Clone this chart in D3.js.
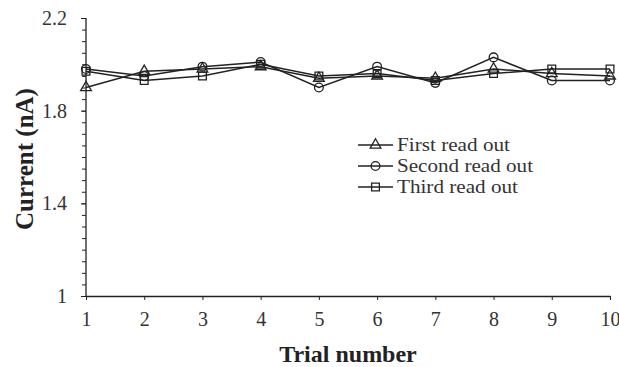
<!DOCTYPE html>
<html><head><meta charset="utf-8">
<script src="https://cdn.jsdelivr.net/npm/d3@7/dist/d3.min.js"></script>
<style>body{margin:0;background:#fff}svg{display:block}</style>
</head><body>
<svg id="c" width="619" height="367"></svg>
<script>
const trials = [1,2,3,4,5,6,7,8,9,10];
const firstRead  = [1.90,1.97,1.98,1.99,1.94,1.95,1.94,1.98,1.96,1.95];
const secondRead = [1.98,1.95,1.99,2.01,1.90,1.99,1.92,2.03,1.93,1.93];
const thirdRead  = [1.97,1.93,1.95,2.00,1.95,1.96,1.93,1.96,1.98,1.98];
const seriesNames = ["First read out","Second read out","Third read out"];
const yTicks = [1,1.4,1.8,2.2];
const xLabel = "Trial number";
const yLabel = "Current (nA)";

const svg = d3.select("#c");
const ink = "#222";
const x = d3.scaleLinear().domain([1,10]).range([86,610]);
const y = d3.scaleLinear().domain([1,2.2]).range([296,18]);

// Y axis with minor ticks
const minor = d3.range(0,25).map(i=>+(1+i*0.05).toFixed(2));
const ya = svg.append("g").attr("transform","translate(86,0)")
  .call(d3.axisLeft(y).tickValues(minor).tickSize(4).tickFormat(""));
ya.selectAll("path").attr("stroke",ink).attr("stroke-width",1.3);
ya.selectAll("line").attr("stroke",ink).attr("stroke-width",1);
ya.select(".domain").attr("d","M0,"+y(2.2)+"V"+y(1));
const yl = svg.append("g").attr("transform","translate(86,0)")
  .call(d3.axisLeft(y).tickValues(yTicks).tickSize(5).tickPadding(14).tickFormat(d=>String(d)));
yl.select(".domain").remove();
yl.selectAll("line").attr("stroke",ink);
yl.selectAll("text").attr("font-family","Liberation Serif").attr("font-size",20).attr("fill","#333");

// X axis
const xa = svg.append("g").attr("transform","translate(0,296)")
  .call(d3.axisBottom(x).tickValues(trials).tickSize(4).tickPadding(12).tickSizeOuter(0));
xa.selectAll("path").attr("stroke",ink).attr("stroke-width",1.3);
xa.selectAll("line").attr("stroke",ink);
xa.selectAll("text").attr("font-family","Liberation Serif").attr("font-size",20).attr("fill","#333");

// titles
svg.append("text").attr("x",348).attr("y",362).attr("text-anchor","middle")
  .attr("font-family","Liberation Serif").attr("font-weight","bold").attr("font-size",24).attr("fill","#222").text(xLabel);
svg.append("text").attr("transform","translate(33,159) rotate(-90)").attr("text-anchor","middle")
  .attr("font-family","Liberation Serif").attr("font-weight","bold").attr("font-size",25).attr("fill","#222").text(yLabel);

const data = [firstRead, secondRead, thirdRead];
const shapes = [d3.symbolTriangle, d3.symbolCircle, d3.symbolSquare];
const sizes = [50, 60, 60];
const line = d3.line().x((d,i)=>x(trials[i])).y(d=>y(d));

data.forEach((vals,k)=>{
  svg.append("path").datum(vals).attr("d",line).attr("fill","none")
    .attr("stroke",ink).attr("stroke-width",1.5);
});
data.forEach((vals,k)=>{
  svg.append("g").selectAll("path").data(vals).join("path")
    .attr("transform",(d,i)=>`translate(${x(trials[i])},${y(d)})`)
    .attr("d",d3.symbol().type(shapes[k]).size(sizes[k]))
    .attr("fill","none").attr("stroke",ink).attr("stroke-width",1.3);
});

// legend
const lg = svg.append("g");
const rows = [145,166,187];
const widths = [113,136,121];
seriesNames.forEach((n,k)=>{
  lg.append("line").attr("x1",358).attr("x2",393).attr("y1",rows[k]).attr("y2",rows[k]).attr("stroke",ink).attr("stroke-width",1.5);
  lg.append("path").attr("transform",`translate(375.5,${rows[k]})`)
    .attr("d",d3.symbol().type(shapes[k]).size(sizes[k])).attr("fill","none").attr("stroke",ink).attr("stroke-width",1.3);
  lg.append("text").attr("x",397).attr("y",rows[k]+6).attr("font-family","Liberation Serif")
    .attr("font-size",18).attr("textLength",widths[k]).attr("lengthAdjust","spacingAndGlyphs")
    .attr("fill","#333").text(n);
});
</script>
</body></html>
